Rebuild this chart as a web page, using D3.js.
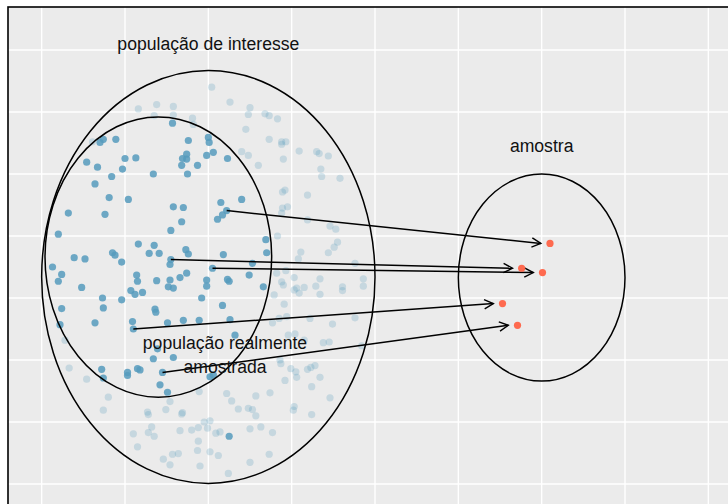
<!DOCTYPE html>
<html>
<head>
<meta charset="utf-8">
<script src="https://cdn.jsdelivr.net/npm/d3@7"></script>
<style>
  body { margin: 0; background: #fff; }
  svg { display: block; }
  text { font-family: "Liberation Sans", Arial, Helvetica, sans-serif; }
</style>
</head>
<body>
<svg id="graph" width="728" height="504"></svg>
<script>
// pontos dentro da populacao realmente amostrada (os 5 primeiros sao os sorteados)
var inX = [2.22, 1.55, 2.05, 1.10, 1.45,
  1.57, 0.70, 0.74, 0.89, 1.76, 2.00, 2.01, 0.54, 0.67, 1.00, 1.13, 0.97, 0.84, 1.34, 0.64,
  0.81, 1.04, 1.74, 1.69, 1.74, 1.68, 1.87, 1.75, 1.98, 2.06, 2.23, 1.58, 1.70, 2.15, 2.40,
  2.11, 2.17, 1.68, 1.55, 2.69, 0.20, 0.32, 0.76, 1.16, 1.35, 1.29, 1.41, 0.85, 0.88, 0.39,
  0.52, 0.96, 1.54, 1.73, 1.76, 0.13, 0.24, 0.20, 1.14, 1.15, 1.38, 1.54, 1.52, 1.58, 1.66,
  1.74, 1.98, 1.98, 0.48, 1.07, 1.12, 1.21, 0.73, 0.96, 0.74, 0.24, 1.36, 1.37, 1.92, 0.64,
  1.09, 1.51, 1.70, 1.89, 0.22, 2.18, 2.53, 2.49, 2.23, 2.25, 2.66, 2.70, 2.17, 2.26, 2.32,
  1.39, 1.34, 1.58, 0.72, 0.74, 1.03, 1.03, 1.15, 1.18, 1.42, 1.51, 2.02, 2.06, 2.25];
var inY = [4.41, 3.62, 3.48, 2.50, 1.80,
  5.82, 5.51, 5.56, 5.56, 5.54, 5.59, 5.51, 5.19, 5.11, 5.25, 5.26, 5.08, 4.96, 5.00, 4.84,
  4.62, 4.59, 5.32, 5.25, 5.24, 5.14, 5.14, 5.00, 5.30, 5.35, 5.25, 4.47, 4.46, 4.54, 4.59,
  4.27, 4.34, 4.23, 4.09, 3.94, 4.03, 4.37, 4.35, 3.87, 3.85, 3.72, 3.72, 3.73, 3.69, 3.65,
  3.63, 3.58, 3.54, 3.78, 3.71, 3.50, 3.38, 3.27, 3.37, 3.27, 3.28, 3.29, 3.18, 3.16, 3.33,
  3.40, 3.29, 3.19, 3.17, 3.12, 3.06, 3.09, 3.00, 2.97, 2.84, 2.83, 2.82, 2.77, 3.00, 2.60,
  2.62, 2.60, 2.64, 2.64, 2.57, 3.70, 3.56, 3.37, 3.30, 3.27, 3.18, 3.73, 2.88, 2.65, 2.40,
  2.18, 2.02, 2.04, 1.85, 1.71, 1.80, 1.75, 1.86, 1.84, 1.60, 1.48, 1.73, 1.76, 0.77];

// pontos da populacao de interesse fora da parte amostrada
var outX = [2.04, 1.16, 1.38, 1.58, 1.35, 1.58, 1.81, 1.82, 0.61, 2.26, 2.50, 2.48, 2.68, 2.73,
  2.83, 2.45, 2.73, 2.88, 2.93, 2.88, 2.40, 2.48, 2.60, 2.90, 3.09, 3.30, 3.33, 3.44, 3.35,
  3.36, 3.58, 2.89, 2.92, 3.19, 2.89, 2.95, 2.88, 3.19, 3.46, 3.53, 3.55, 3.51, 3.44, 3.11,
  3.08, 3.76, 2.83, 2.82, 2.93, 3.03, 2.88, 2.90, 3.34, 3.29, 3.06, 3.03, 3.09, 3.15, 3.34,
  3.61, 3.61, 3.86, 3.86, 2.79, 2.91, 2.94, 2.85, 2.77, 3.22, 3.49, 3.76, 2.96, 3.04, 3.15,
  3.38, 3.45, 3.84, 2.86, 2.87, 2.99, 3.05, 3.06, 3.19, 3.23, 3.28, 3.34, 2.92, 3.24, 3.46,
  2.74, 2.57, 2.22, 2.28, 2.36, 2.48, 2.53, 2.57, 3.02, 3.03, 3.24, 2.02, 1.99, 2.09, 2.14,
  2.50, 2.63, 2.77, 2.02, 2.12, 2.50, 2.73, 2.24, 1.95, 1.88, 1.80, 1.66, 1.88, 1.87, 1.90,
  1.46, 1.57, 1.64, 1.54, 1.28, 1.32, 1.35, 1.10, 1.15, 1.27, 1.28, 1.49, 1.54, 1.68, 1.69,
  1.89, 0.80, 0.74, 0.33, 0.54, 0.28];
var outY = [6.40, 6.05, 6.12, 6.09, 5.94, 5.95, 5.90, 5.80, 5.52, 6.16, 6.07, 5.96, 5.97, 5.94,
  5.89, 5.72, 5.56, 5.52, 5.52, 5.48, 5.36, 5.30, 5.14, 5.24, 5.37, 5.36, 5.33, 5.29, 5.08,
  4.96, 4.93, 4.71, 4.74, 4.66, 4.45, 4.47, 4.37, 4.26, 4.16, 4.11, 3.90, 3.82, 3.73, 3.74,
  3.63, 3.56, 4.00, 3.40, 3.44, 3.33, 3.26, 3.21, 3.31, 3.19, 3.16, 3.13, 3.08, 3.17, 3.06,
  3.18, 3.12, 3.31, 3.19, 3.05, 2.90, 2.70, 2.67, 2.60, 2.67, 2.58, 2.68, 2.40, 2.42, 2.32,
  2.28, 2.29, 2.23, 2.00, 1.94, 1.86, 1.81, 1.72, 1.85, 1.88, 1.91, 1.72, 1.67, 1.57, 1.39,
  1.47, 1.42, 1.46, 1.34, 1.21, 1.22, 1.20, 1.10, 1.19, 1.25, 1.12, 1.02, 0.90, 0.82, 0.84,
  0.89, 0.92, 0.83, 0.52, 0.46, 0.35, 0.48, 0.17, 1.00, 0.91, 0.87, 0.86, 0.69, 0.54, 0.29,
  0.40, 0.48, 0.49, 0.31, 0.83, 0.92, 0.77, 0.81, 0.60, 1.16, 1.12, 1.20, 1.33, 1.13, 1.15,
  1.49, 1.40, 1.19, 1.87, 1.69, 2.32];

// amostra
var sampleX = [6.10, 5.76, 6.01, 5.53, 5.71];
var sampleY = [3.88, 3.48, 3.41, 2.91, 2.56];
var arrowFrom = [0, 1, 2, 3, 4];   // indice em inX/inY

// elipses: interesse, realmente amostrada, amostra
var ellCx = [2.00, 1.40, 6.00];
var ellCy = [3.34, 3.66, 3.33];
var ellRx = [2.00, 1.36, 1.00];
var ellRy = [3.33, 2.26, 1.67];

var labelText = [["população de interesse"], ["amostra"], ["população realmente", "amostrada"]];
var labelX = [2.00, 6.00, 2.20];
var labelY = [7.10, 5.45, 2.28];

var gridX = [0, 1, 2, 3, 4, 5, 6, 7, 8];
var gridY = [0, 1, 2, 3, 4, 5, 6, 7];

function creaGrafica() {
    var svg = d3.select("#graph");
    var panel = { left: 8, top: 7, right: 750, bottom: 530 };

    var x = d3.scaleLinear().domain([0, 8]).range([41.67, 708.33]);
    var y = d3.scaleLinear().domain([0, 7]).range([484, 50]);

    svg.append("defs").append("marker")
        .attr("id", "seta")
        .attr("viewBox", "-10 -6 12 12")
        .attr("refX", 0).attr("refY", 0)
        .attr("markerUnits", "userSpaceOnUse")
        .attr("markerWidth", 12).attr("markerHeight", 12)
        .attr("orient", "auto")
        .append("path")
        .attr("d", "M-9,-4.6L0,0L-9,4.6")
        .attr("fill", "none")
        .attr("stroke", "#000")
        .attr("stroke-width", 1.4);

    svg.append("rect")
        .attr("x", panel.left).attr("y", panel.top)
        .attr("width", panel.right - panel.left)
        .attr("height", panel.bottom - panel.top)
        .attr("fill", "#EBEBEB");

    // grade
    svg.append("g").selectAll("line").data(gridX).enter().append("line")
        .attr("x1", d => x(d)).attr("x2", d => x(d))
        .attr("y1", panel.top).attr("y2", panel.bottom)
        .attr("stroke", "#fff").attr("stroke-width", 1.4);
    svg.append("g").selectAll("line").data(gridY).enter().append("line")
        .attr("y1", d => y(d)).attr("y2", d => y(d))
        .attr("x1", panel.left).attr("x2", panel.right)
        .attr("stroke", "#fff").attr("stroke-width", 1.4);

    // pontos
    svg.append("g").selectAll("circle").data(outX).enter().append("circle")
        .attr("cx", d => x(d))
        .attr("cy", (d, i) => y(outY[i]))
        .attr("r", 3.6)
        .attr("fill", "#569BBD")
        .attr("fill-opacity", 0.25);

    svg.append("g").selectAll("circle").data(inX).enter().append("circle")
        .attr("cx", d => x(d))
        .attr("cy", (d, i) => y(inY[i]))
        .attr("r", 3.6)
        .attr("fill", "#569BBD")
        .attr("fill-opacity", 0.85);

    // elipses
    svg.append("g").selectAll("ellipse").data(ellCx).enter().append("ellipse")
        .attr("cx", d => x(d))
        .attr("cy", (d, i) => y(ellCy[i]))
        .attr("rx", (d, i) => x(ellRx[i]) - x(0))
        .attr("ry", (d, i) => y(0) - y(ellRy[i]))
        .attr("fill", "none")
        .attr("stroke", "#000")
        .attr("stroke-width", 1.5);

    // setas
    var gap = 0.11;
    svg.append("g").selectAll("line").data(arrowFrom).enter().append("line")
        .attr("x1", d => x(inX[d]))
        .attr("y1", d => y(inY[d]))
        .attr("x2", (d, i) => x(sampleX[i] - gap))
        .attr("y2", (d, i) => y(sampleY[i]))
        .attr("stroke", "#000")
        .attr("stroke-width", 1.5)
        .attr("marker-end", "url(#seta)");

    svg.append("g").selectAll("circle").data(sampleX).enter().append("circle")
        .attr("cx", d => x(d))
        .attr("cy", (d, i) => y(sampleY[i]))
        .attr("r", 3.6)
        .attr("fill", "#FF6347")
        .attr("fill-opacity", 0.95);

    // rotulos
    var lbl = svg.append("g").selectAll("text").data(labelText).enter().append("text")
        .attr("x", (d, i) => x(labelX[i]))
        .attr("y", (d, i) => y(labelY[i]))
        .attr("text-anchor", "middle")
        .attr("font-size", "17.6px")
        .attr("fill", "#111");
    lbl.selectAll("tspan").data(d => d).enter().append("tspan")
        .attr("x", function () { return d3.select(this.parentNode).attr("x"); })
        .attr("dy", (d, j) => j === 0 ? "0.35em" : "1.4em")
        .text(d => d);

    // borda (direita e inferior ficam fora da imagem)
    svg.append("rect")
        .attr("x", panel.left).attr("y", panel.top)
        .attr("width", panel.right - panel.left)
        .attr("height", panel.bottom - panel.top)
        .attr("fill", "none")
        .attr("stroke", "#000")
        .attr("stroke-width", 1.6);
}

creaGrafica();
</script>
</body>
</html>
